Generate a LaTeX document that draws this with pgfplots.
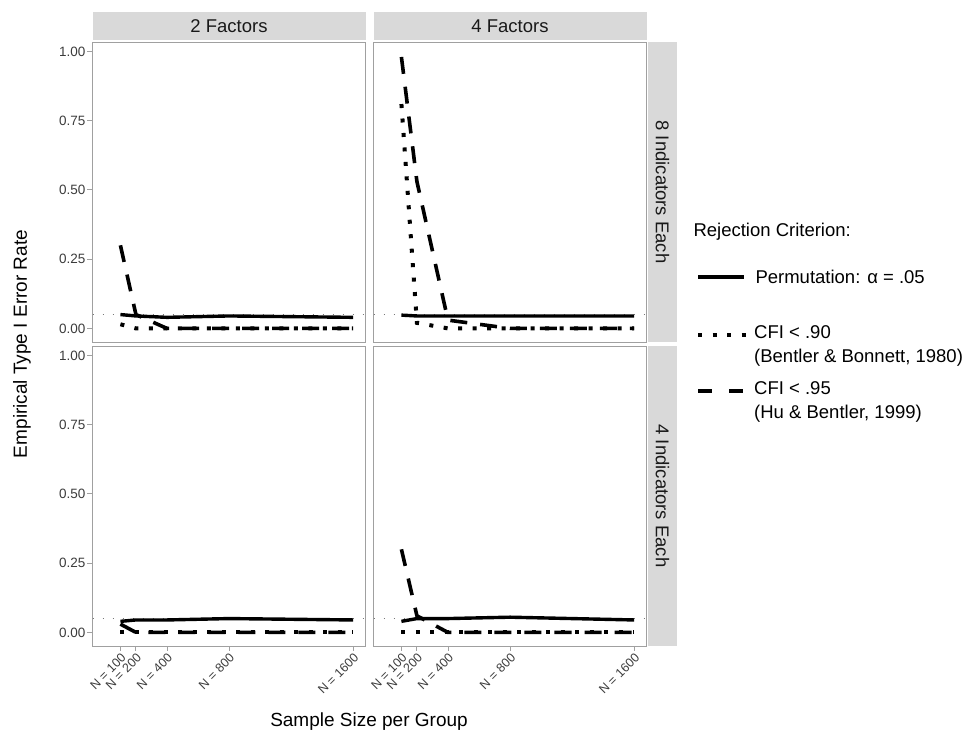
\documentclass[border=0pt]{standalone}
\usepackage{fontspec}
\setmainfont{Liberation Sans}
\usepackage{pgfplots}
\pgfplotsset{compat=1.18}
\usepackage{pgfplotstable}

\definecolor{stripgray}{RGB}{217,217,217}
\definecolor{bordergray}{RGB}{160,160,160}
\definecolor{ticklab}{RGB}{60,60,60}
\definecolor{refgray}{RGB}{120,120,120}

% N, permutation, CFI<.90, CFI<.95
\pgfplotstableread{
N perm c90 c95
100 0.050 0.015 0.30
200 0.045 0.000 0.05
400 0.040 0.000 0.00
800 0.045 0.000 0.00
1600 0.040 0.000 0.00
}\tabTL
\pgfplotstableread{
N perm c90 c95
100 0.048 0.81 0.98
200 0.045 0.02 0.53
400 0.045 0.00 0.03
800 0.045 0.00 0.00
1600 0.045 0.00 0.00
}\tabTR
\pgfplotstableread{
N perm c90 c95
100 0.040 0.00 0.03
200 0.045 0.00 0.00
400 0.045 0.00 0.00
800 0.050 0.00 0.00
1600 0.045 0.00 0.00
}\tabBL
\pgfplotstableread{
N perm c90 c95
100 0.040 0.00 0.30
200 0.050 0.00 0.06
400 0.050 0.00 0.00
800 0.055 0.00 0.00
1600 0.045 0.00 0.00
}\tabBR

\newcommand{\ytickfont}{\fontsize{13.5}{15}\selectfont}
\newcommand{\xtickfont}{\fontsize{12.5}{14}\selectfont}

\pgfplotsset{
  panel/.style={
    anchor=south west, scale only axis, width=273pt, height=300pt,
    xmin=-80, xmax=1680, ymin=-0.049, ymax=1.034,
    axis line style={draw=bordergray, line width=0.9pt},
    tick style={draw=bordergray, line width=0.9pt},
    tick align=outside, major tick length=5pt,
    xtick=\empty, ytick=\empty,
    tick label style={text=ticklab},
  },
  leftpanel/.style={
    ytick={0,0.25,0.5,0.75,1},
    yticklabel={\ytickfont\pgfmathprintnumber[fixed,fixed zerofill,precision=2,assume math mode=true]{\tick}},
    ytick pos=left,
    yticklabel style={anchor=east, inner sep=2pt},
  },
  bottompanel/.style={
    xtick={100,200,400,800,1600},
    xticklabel={\xtickfont N = \pgfmathprintnumber[assume math mode=true,set thousands separator={}]{\tick}},
    xtick pos=left,
    xticklabel style={rotate=45, anchor=north east, inner sep=1pt},
  },
  refline/.style={refgray, line width=1.4pt, dash pattern=on 1.4pt off 8.6pt, forget plot},
  permline/.style={black, line width=3.4pt, line join=round},
  cfininety/.style={black, line width=4pt, dash pattern=on 4pt off 10.5pt},
  cfininetyfive/.style={black, line width=3.6pt, dash pattern=on 17pt off 13pt},
}

\newcommand{\panelplots}[1]{%
  \addplot[refline] coordinates {(-80,0.05) (1680,0.05)};
  \addplot[permline] table[x=N,y=perm]{#1};
  \addplot[cfininety] table[x=N,y=c90]{#1};
  \addplot[cfininetyfive] table[x=N,y=c95]{#1};
}

\begin{document}
\begin{tikzpicture}
\path[use as bounding box] (0pt,0pt) rectangle (972pt,744pt);

% strips
\fill[stripgray] (92.5pt,704pt) rectangle (365.5pt,732pt);
\fill[stripgray] (373.5pt,704pt) rectangle (646.5pt,732pt);
\fill[stripgray] (648pt,402pt) rectangle (677pt,702pt);
\fill[stripgray] (648pt,98pt) rectangle (677pt,398pt);
\node[font=\fontsize{18.5}{22}\selectfont, text=black!90] at (229pt,718pt) {2 Factors};
\node[font=\fontsize{18.5}{22}\selectfont, text=black!90] at (510pt,718pt) {4 Factors};
\node[font=\fontsize{18.5}{22}\selectfont, text=black!90, rotate=-90] at (662.5pt,552pt) {8 Indicators Each};
\node[font=\fontsize{18.5}{22}\selectfont, text=black!90, rotate=-90] at (662.5pt,248pt) {4 Indicators Each};

\begin{axis}[panel, leftpanel, at={(92.5pt,402pt)}]
\panelplots{\tabTL}
\end{axis}
\begin{axis}[panel, at={(373.5pt,402pt)}]
\panelplots{\tabTR}
\end{axis}
\begin{axis}[panel, leftpanel, bottompanel, at={(92.5pt,98pt)}]
\panelplots{\tabBL}
\end{axis}
\begin{axis}[panel, bottompanel, at={(373.5pt,98pt)}]
\panelplots{\tabBR}
\end{axis}

% axis titles
\node[font=\fontsize{19}{22}\selectfont, rotate=90] at (22pt,400pt) {Empirical Type I Error Rate};
\node[font=\fontsize{19}{22}\selectfont] at (369pt,22pt) {Sample Size per Group};

% legend
\node[font=\fontsize{18.5}{22}\selectfont, anchor=west] at (690pt,512pt) {Rejection Criterion:};
\draw[black, line width=3.4pt] (698pt,467pt) -- (744pt,467pt);
\node[font=\fontsize{18.5}{22}\selectfont, anchor=west] at (752pt,467pt) {Permutation: α = .05};
\draw[black, line width=4pt, dash pattern=on 4pt off 10.5pt] (698pt,409pt) -- (746pt,409pt);
\node[font=\fontsize{18.5}{24}\selectfont, anchor=north west, align=left, inner sep=0pt] at (754pt,419pt) {CFI < .90\\(Bentler \& Bonnett, 1980)};
\draw[black, line width=3.6pt, dash pattern=on 14pt off 17pt] (698pt,353pt) -- (744pt,353pt);
\node[font=\fontsize{18.5}{24}\selectfont, anchor=north west, align=left, inner sep=0pt] at (754pt,363pt) {CFI < .95\\(Hu \& Bentler, 1999)};
\end{tikzpicture}
\end{document}
